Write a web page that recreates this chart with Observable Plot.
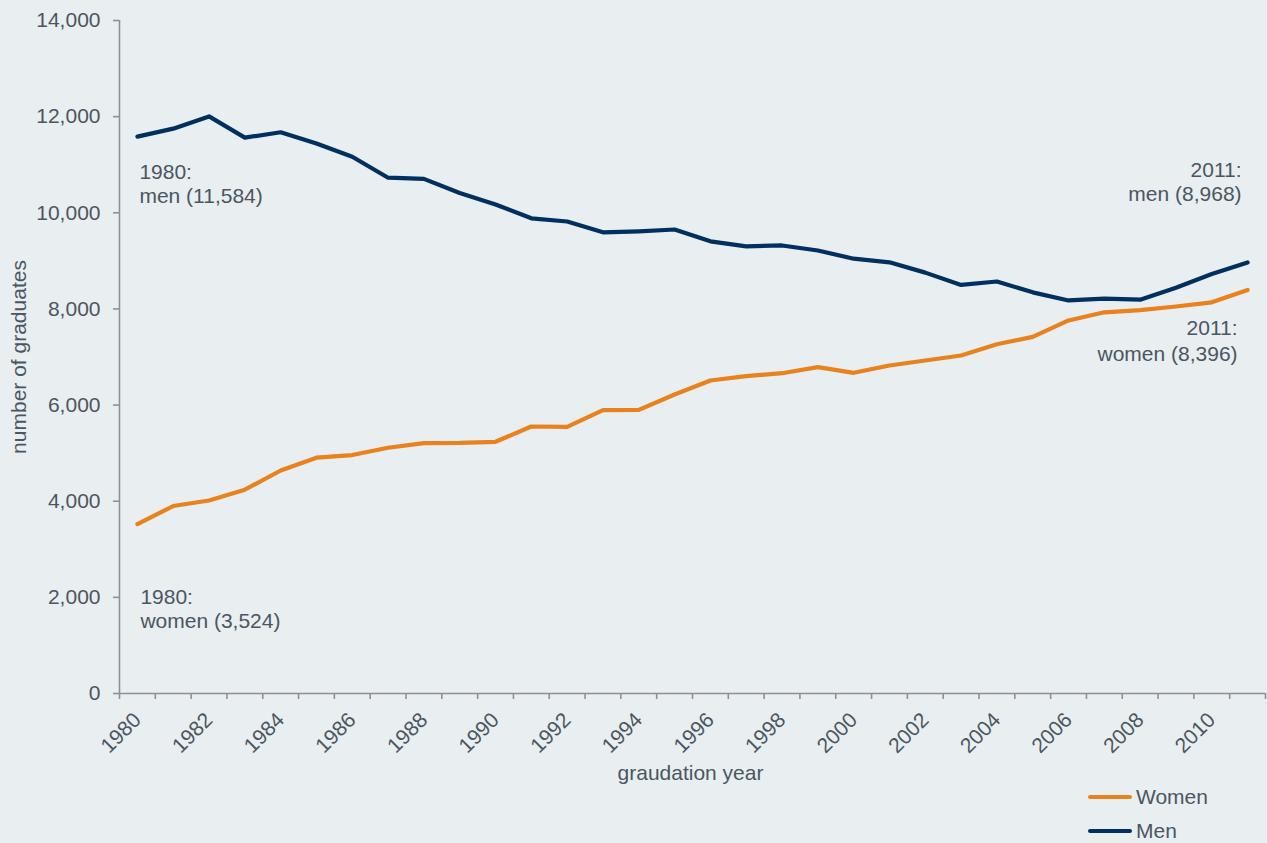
<!DOCTYPE html>
<html>
<head>
<meta charset="utf-8">
<script src="https://cdn.jsdelivr.net/npm/d3@7"></script>
<script src="https://cdn.jsdelivr.net/npm/@observablehq/plot@0.6"></script>
<style>
  html, body { margin: 0; padding: 0; background: #e9eef0; }
  body { font-family: "Liberation Sans", Arial, sans-serif; width: 1267px; height: 843px; overflow: hidden; }
  #chart svg { display: block; }
  #legend { margin-left: 1088px; margin-top: -15px; color: #4b5661; font-size: 21px; }
  .row { display: flex; align-items: center; height: 24px; }
  .row + .row { margin-top: 10px; }
  .sw { width: 44px; height: 4px; border-radius: 2px; margin-right: 4px; }
</style>
</head>
<body>
<div id="chart"></div>
<div id="legend"></div>
<script>
// ---- data ----
const years = [1980, 1981, 1982, 1983, 1984, 1985, 1986, 1987, 1988, 1989, 1990, 1991, 1992, 1993, 1994, 1995,
               1996, 1997, 1998, 1999, 2000, 2001, 2002, 2003, 2004, 2005, 2006, 2007, 2008, 2009, 2010, 2011];
const women = [3524, 3900, 4015, 4240, 4639, 4905, 4960, 5112, 5210, 5212, 5236, 5554, 5548, 5894, 5900, 6220,
               6511, 6601, 6663, 6788, 6671, 6823, 6928, 7032, 7265, 7418, 7760, 7930, 7975, 8051, 8137, 8396];
const men   = [11584, 11750, 12005, 11563, 11675, 11440, 11165, 10730, 10705, 10412, 10173, 9885, 9819, 9594, 9615, 9652,
               9406, 9302, 9320, 9216, 9045, 8970, 8755, 8500, 8571, 8345, 8176, 8214, 8193, 8440, 8725, 8968];
const seriesNames = ["Women", "Men"];
const seriesColors = ["#e8821e", "#00305f"];
const labelYears = [1980, 1982, 1984, 1986, 1988, 1990, 1992, 1994, 1996, 1998, 2000, 2002, 2004, 2006, 2008, 2010];
const yTicks = [0, 2000, 4000, 6000, 8000, 10000, 12000, 14000];
const xTitle = "graudation year";
const yTitle = "number of graduates";

// ---- derived tables ----
const fmt = d3.format(",");
const rows = years.flatMap((yr, i) => [
  {year: yr, value: women[i], series: "Women"},
  {year: yr, value: men[i], series: "Men"}
]);
const boundaries = years.map(y => y - 0.5).concat([years[years.length - 1] + 0.5]);
const first = 0, last = years.length - 1;
const note = (i, arr, name) => [{year: years[i], value: arr[i], label: `${years[i]}:\n${name} (${fmt(arr[i])})`}];

const textColor = "#4b5661";
const axisGray = "#8e9194";
const fs = 21;

const chart = Plot.plot({
  width: 1267,
  height: 800,
  marginLeft: 119,
  marginRight: 2,
  marginTop: 20,
  marginBottom: 107,
  style: {background: "transparent", fontFamily: "'Liberation Sans', Arial, sans-serif", fontSize: fs + "px", color: textColor},
  x: {type: "linear", domain: [boundaries[0], boundaries[boundaries.length - 1]]},
  y: {domain: [yTicks[0], yTicks[yTicks.length - 1]]},
  color: {domain: seriesNames, range: seriesColors},
  marks: [
    Plot.ruleY([yTicks[0]], {stroke: axisGray, strokeWidth: 1.6}),
    Plot.ruleX([boundaries[0]], {stroke: axisGray, strokeWidth: 1.6}),
    Plot.axisY(yTicks, {tickSize: 6, tickPadding: 13, tickFormat: fmt, stroke: axisGray, strokeWidth: 1.6, fill: textColor, label: null, fontSize: fs}),
    Plot.axisX(boundaries, {tickSize: 6, tickFormat: () => "", stroke: axisGray, strokeWidth: 1.6, label: null}),
    Plot.axisX(labelYears, {tickSize: 0, tickRotate: -45, tickPadding: 23, tickFormat: d => String(d), fill: textColor, label: null, fontSize: fs}),
    Plot.line(rows, {x: "year", y: "value", z: "series", stroke: "series", strokeWidth: 4.2, strokeLinejoin: "round", strokeLinecap: "round"}),
    Plot.text(note(first, men, "men"), {x: "year", y: "value", text: "label", textAnchor: "start", lineAnchor: "top", dx: 2, dy: 26, lineHeight: 1.13, fill: textColor, fontSize: fs}),
    Plot.text(note(first, women, "women"), {x: "year", y: "value", text: "label", textAnchor: "start", lineAnchor: "top", dx: 3, dy: 63, lineHeight: 1.13, fill: textColor, fontSize: fs}),
    Plot.text(note(last, men, "men"), {x: "year", y: "value", text: "label", textAnchor: "end", lineAnchor: "top", dx: -6, dy: -102, lineHeight: 1.13, fill: textColor, fontSize: fs}),
    Plot.text(note(last, women, "women"), {x: "year", y: "value", text: "label", textAnchor: "end", lineAnchor: "top", dx: -10, dy: 27, lineHeight: 1.24, fill: textColor, fontSize: fs}),
    Plot.text([xTitle], {frameAnchor: "bottom", text: d => d, textAnchor: "middle", lineAnchor: "top", dx: -2, dy: 72, fill: textColor, fontSize: fs}),
    Plot.text([yTitle], {frameAnchor: "left", text: d => d, textAnchor: "middle", rotate: -90, lineAnchor: "top", dx: -108, fill: textColor, fontSize: fs})
  ]
});
document.getElementById("chart").append(chart);

const legend = document.getElementById("legend");
seriesNames.forEach((name, i) => {
  const row = document.createElement("div");
  row.className = "row";
  const sw = document.createElement("span");
  sw.className = "sw";
  sw.style.background = seriesColors[i];
  const label = document.createElement("span");
  label.textContent = name;
  row.append(sw, label);
  legend.append(row);
});
</script>
</body>
</html>
